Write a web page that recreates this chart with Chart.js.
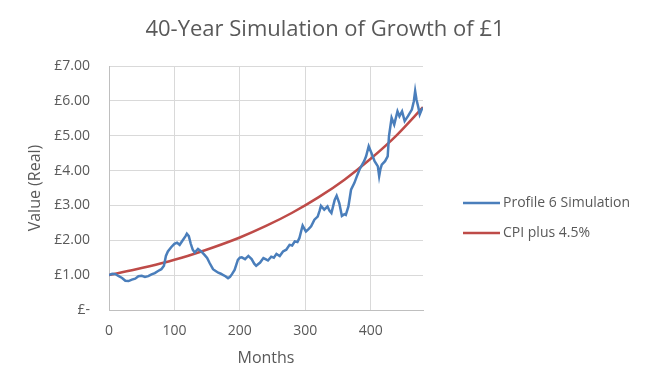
<!DOCTYPE html>
<html>
<head>
<meta charset="utf-8">
<script src="https://cdn.jsdelivr.net/npm/chart.js@4"></script>
<style>
  html, body { margin: 0; padding: 0; background: #fff; }
  #wrap { width: 650px; height: 391px; }
</style>
</head>
<body>
<div id="wrap"><canvas id="chart" width="650" height="391"></canvas></div>
<script>
const chartTitle = '40-Year Simulation of Growth of £1';
const seriesNames = ['Profile 6 Simulation', 'CPI plus 4.5%'];

// blue series (month, value)
const simMonths = [0, 5, 10, 15, 20, 25, 30, 35, 40, 45, 50, 55, 60, 65, 70, 75, 80, 84, 87, 90,
  95, 100, 104, 108, 113, 117, 119, 122, 125, 128, 131, 136, 141, 146, 150, 154, 159, 163, 167, 171,
  174, 178, 182, 185, 188, 192, 197, 200, 203, 208, 213, 218, 222, 225, 231, 236, 240, 243, 248, 252,
  256, 261, 266, 271, 276, 280, 284, 288, 291, 294, 296, 301, 305, 309, 314, 319, 322, 324, 329, 334,
  337, 340, 345, 348, 352, 356, 360, 362, 366, 370, 375, 379, 383, 387, 390, 393, 397, 401, 406, 411,
  413, 415, 417, 422, 426, 428, 432, 436, 441, 444, 448, 452, 457, 463, 466, 468, 470, 473, 475, 478, 480];
const simValues = [1.00, 1.04, 1.03, 0.97, 0.92, 0.84, 0.83, 0.87, 0.90, 0.97, 0.98, 0.95, 0.97, 1.02, 1.06, 1.12, 1.17, 1.27, 1.55, 1.68,
  1.80, 1.90, 1.93, 1.87, 2.01, 2.12, 2.19, 2.12, 1.90, 1.73, 1.65, 1.75, 1.68, 1.58, 1.49, 1.34, 1.17, 1.12, 1.07, 1.04,
  1.01, 0.97, 0.91, 0.95, 1.03, 1.15, 1.44, 1.50, 1.51, 1.46, 1.55, 1.46, 1.33, 1.27, 1.36, 1.49, 1.45, 1.42, 1.53, 1.50,
  1.61, 1.55, 1.68, 1.73, 1.87, 1.85, 1.97, 1.95, 2.06, 2.28, 2.42, 2.25, 2.32, 2.40, 2.59, 2.68, 2.85, 2.99, 2.88, 2.97,
  2.85, 2.78, 3.16, 3.28, 3.07, 2.70, 2.75, 2.73, 2.97, 3.45, 3.64, 3.84, 4.03, 4.17, 4.27, 4.41, 4.70, 4.51, 4.27, 4.12,
  3.84, 4.05, 4.17, 4.27, 4.41, 4.99, 5.51, 5.32, 5.70, 5.56, 5.70, 5.42, 5.56, 5.75, 5.99, 6.28, 6.04, 5.80, 5.61, 5.75, 5.80];

// red series
const cpiMonths = [0, 40, 80, 120, 160, 200, 240, 280, 320, 360, 400, 440, 480];
const cpiValues = [1.00, 1.16, 1.34, 1.55, 1.80, 2.08, 2.41, 2.79, 3.23, 3.74, 4.34, 5.02, 5.82];

const xTicks = [0, 100, 200, 300, 400];
const yTicks = [0, 1, 2, 3, 4, 5, 6, 7];

const fontFamily = "'Open Sans', sans-serif";
const textColor = '#595959';
const gridColor = '#d9d9d9';

const toPoints = (xs, ys) => xs.map((x, i) => ({ x, y: ys[i] }));

// title centred on the whole canvas and legend at the right, as in the original
const decorPlugin = {
  id: 'decor',
  afterDraw(chart) {
    const ctx = chart.ctx;
    ctx.save();
    ctx.fillStyle = textColor;
    ctx.textBaseline = 'middle';
    ctx.textAlign = 'center';
    ctx.font = '22px ' + fontFamily;
    ctx.fillText(chartTitle, 325, 30);

    ctx.textAlign = 'left';
    ctx.font = '14px ' + fontFamily;
    chart.data.datasets.forEach((ds, i) => {
      const y = 203 + i * 30;
      ctx.strokeStyle = ds.borderColor;
      ctx.lineWidth = 2.5;
      ctx.beginPath();
      ctx.moveTo(463, y);
      ctx.lineTo(500, y);
      ctx.stroke();
      ctx.fillText(ds.label, 503, y);
    });
    ctx.restore();
  }
};

new Chart(document.getElementById('chart'), {
  type: 'scatter',
  data: {
    datasets: [
      {
        label: seriesNames[0],
        data: toPoints(simMonths, simValues),
        showLine: true,
        borderColor: '#4a7ebb',
        backgroundColor: '#4a7ebb',
        borderWidth: 2.5,
        pointRadius: 0,
        tension: 0
      },
      {
        label: seriesNames[1],
        data: toPoints(cpiMonths, cpiValues),
        showLine: true,
        borderColor: '#be4b48',
        backgroundColor: '#be4b48',
        borderWidth: 2.5,
        pointRadius: 0,
        cubicInterpolationMode: 'monotone'
      }
    ]
  },
  options: {
    responsive: false,
    animation: false,
    layout: { padding: { left: 0, right: 227, top: 66, bottom: 23 } },
    plugins: {
      legend: { display: false },
      tooltip: { enabled: false },
      title: { display: false }
    },
    scales: {
      x: {
        type: 'linear',
        min: 0,
        max: 480,
        afterBuildTicks: axis => { axis.ticks = xTicks.map(v => ({ value: v })); },
        afterFit: axis => { axis.height = 58; },
        grid: { color: gridColor, drawTicks: false },
        border: { color: '#bfbfbf' },
        ticks: { color: textColor, font: { family: fontFamily, size: 14 }, padding: 13, maxRotation: 0 },
        title: {
          display: true,
          text: 'Months',
          color: textColor,
          font: { family: fontFamily, size: 16 },
          padding: { top: 4, bottom: 0 }
        }
      },
      y: {
        min: 0,
        max: 7,
        afterBuildTicks: axis => { axis.ticks = yTicks.map(v => ({ value: v })); },
        afterFit: axis => { axis.width = 109; },
        grid: { color: gridColor, drawTicks: false },
        border: { color: '#bfbfbf' },
        ticks: {
          color: textColor,
          font: { family: fontFamily, size: 14 },
          padding: 19,
          callback: v => v === 0 ? '£-' : '£' + v.toFixed(2)
        },
        title: {
          display: true,
          text: 'Value (Real)',
          color: textColor,
          font: { family: fontFamily, size: 16 },
          padding: { top: 26, bottom: 0 }
        }
      }
    }
  },
  plugins: [decorPlugin]
});
</script>
</body>
</html>
